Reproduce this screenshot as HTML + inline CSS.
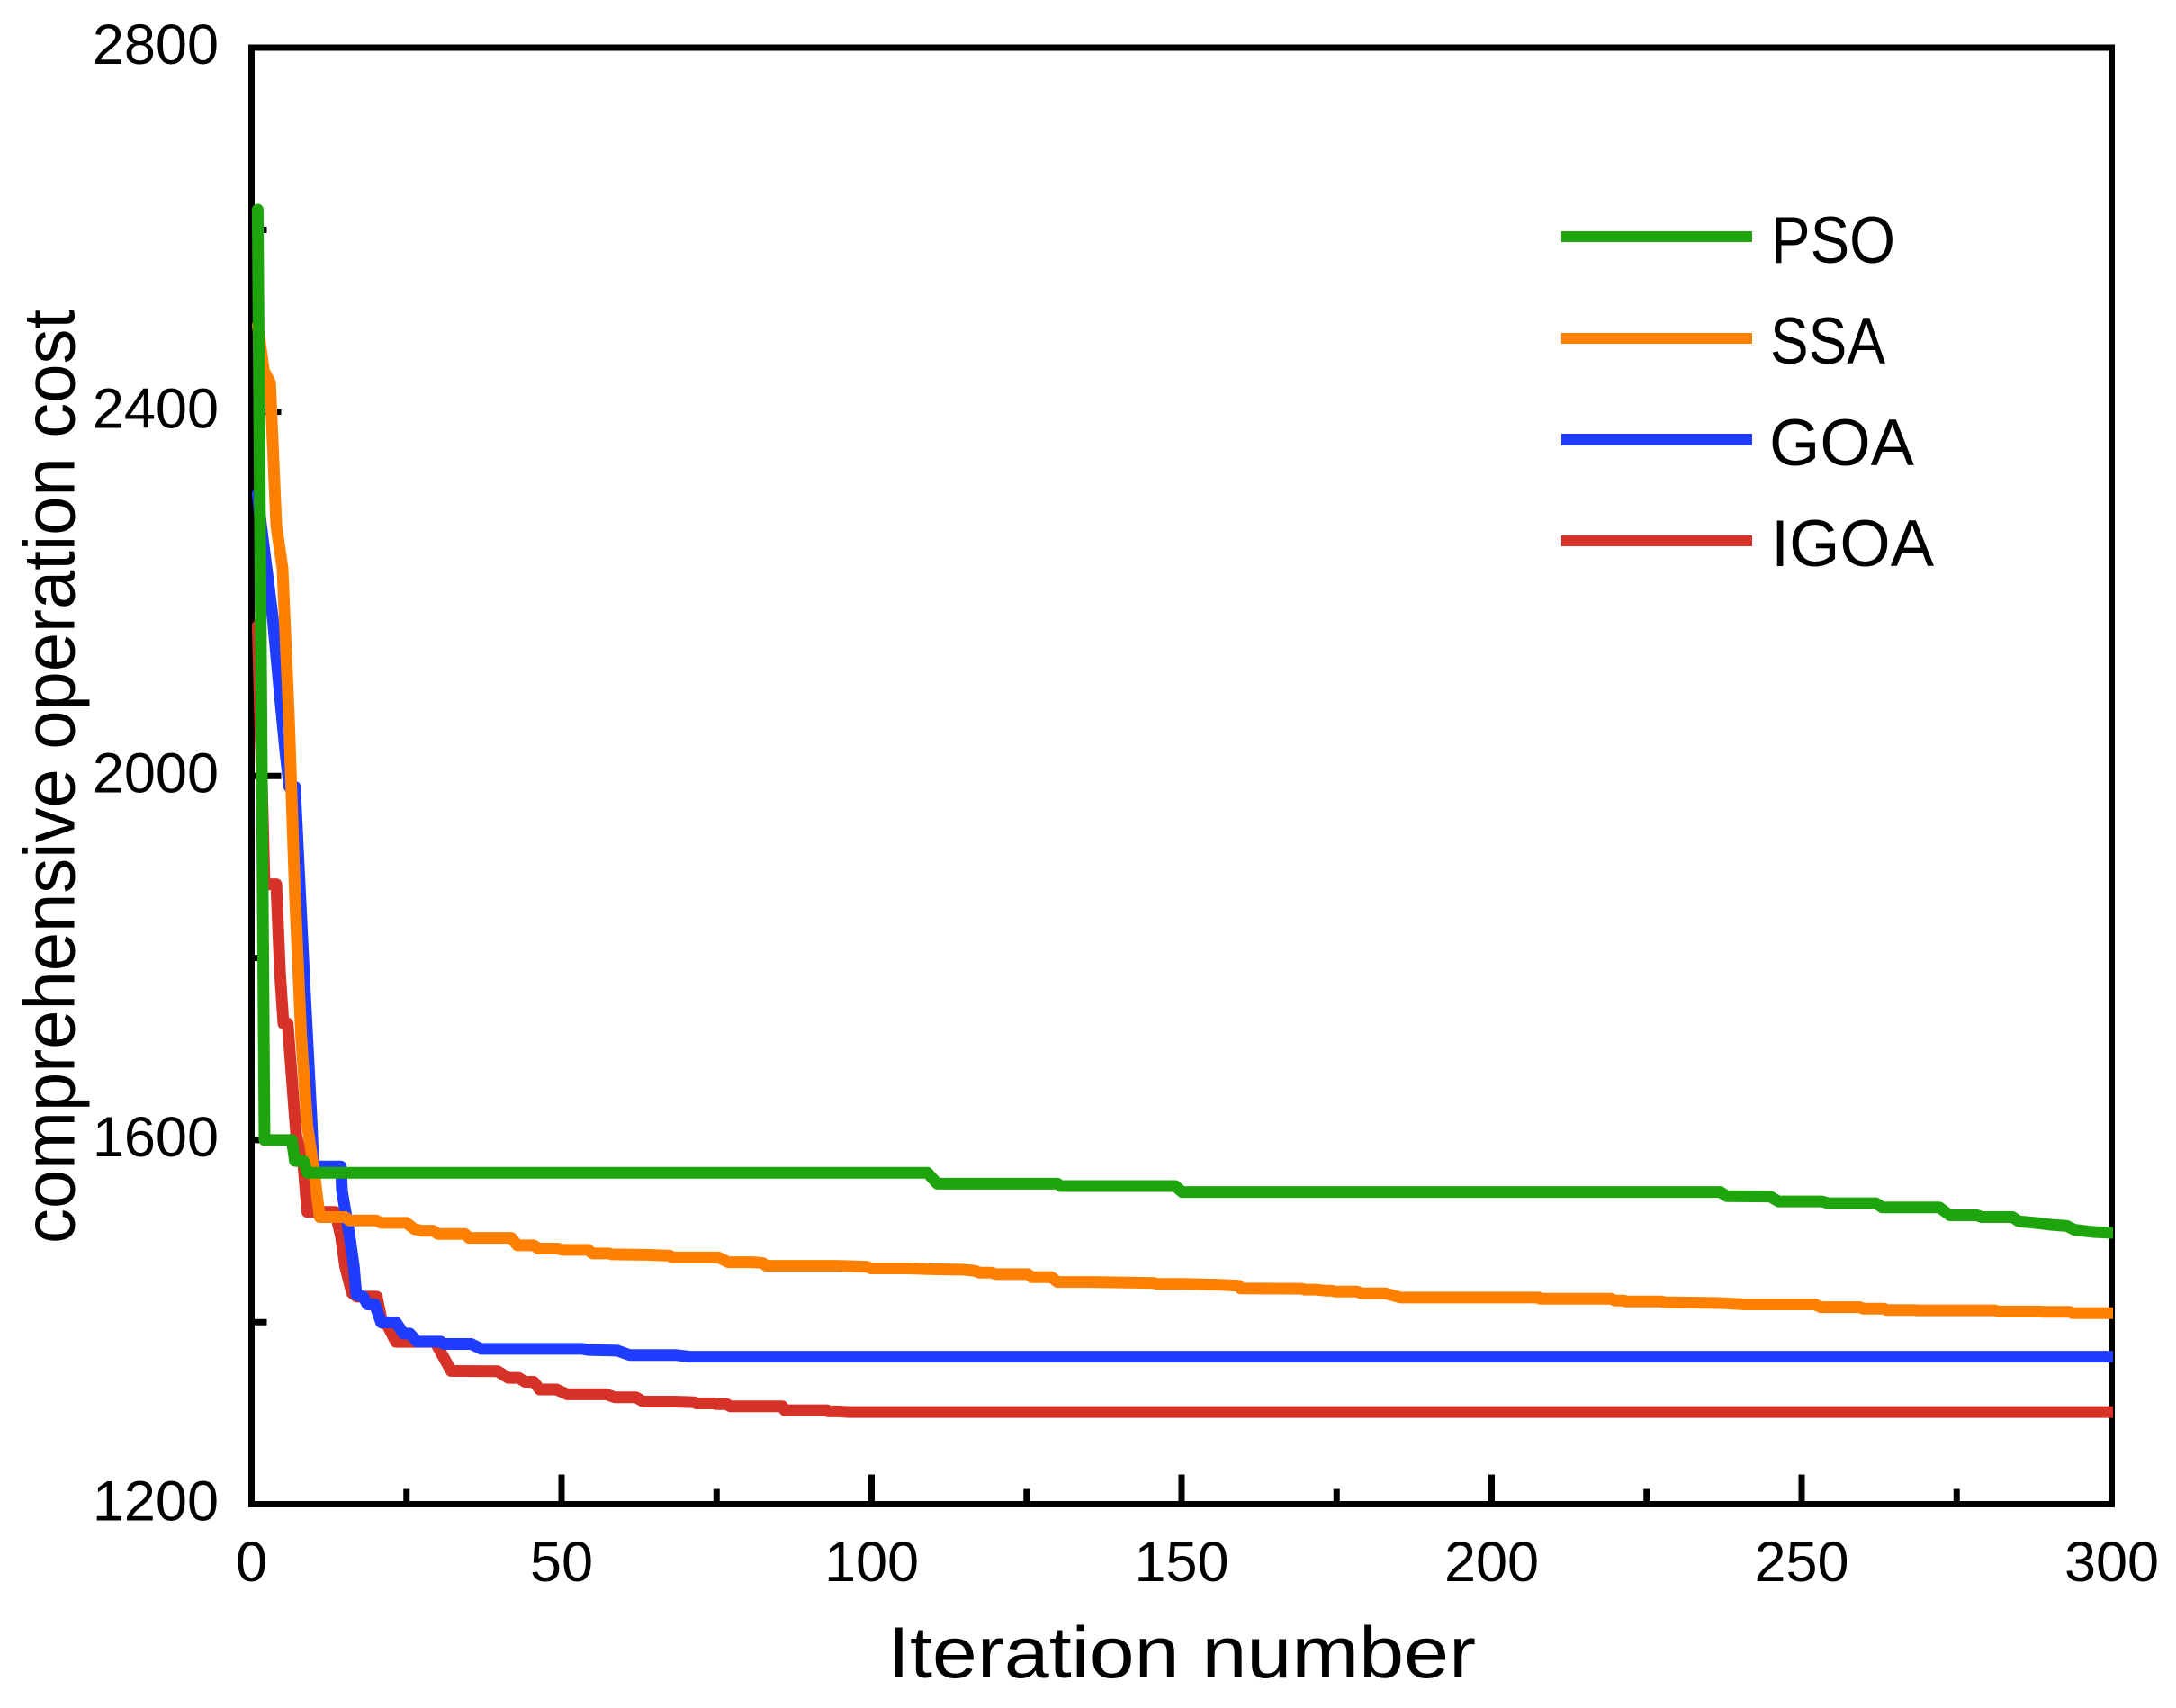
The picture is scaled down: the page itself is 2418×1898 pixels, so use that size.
<!DOCTYPE html>
<html lang="en">
<head>
<meta charset="utf-8">
<title>Comprehensive operation cost vs iteration number</title>
<style>
  html, body { margin: 0; padding: 0; background: #fff; }
  #chart { display: block; width: 2418px; height: 1898px; }
  text { font-family: "Liberation Sans", sans-serif; fill: #000; }
</style>
</head>
<body>
<svg id="chart" xmlns="http://www.w3.org/2000/svg" width="2418" height="1898" viewBox="0 0 2418 1898">
  <rect x="0" y="0" width="2418" height="1898" fill="#ffffff"/>
  <defs>
    <clipPath id="plot-clip"><rect x="270" y="40" width="2078" height="1640"/></clipPath>
  </defs>
  <g id="tick-layer"></g>
  <rect x="279.5" y="53" width="2067" height="1618.5" fill="none" stroke="#000" stroke-width="7"/>
  <g id="label-layer"></g>
  <g id="series-layer" clip-path="url(#plot-clip)"></g>

  <text x="986" y="1864" font-size="81" textLength="654" lengthAdjust="spacingAndGlyphs">Iteration number</text>
  <text transform="translate(82.5,1382) rotate(-90)" x="0" y="0" font-size="81" textLength="1038" lengthAdjust="spacingAndGlyphs">comprehensive operation cost</text>

  <g>
    <g>
      <rect x="1735" y="257" width="212" height="12" fill="#1ea50e"/>
      <text x="1968" y="292" font-size="73" textLength="138" lengthAdjust="spacingAndGlyphs">PSO</text>
    </g>
    <g>
      <rect x="1735" y="370" width="212" height="12" fill="#ff8000"/>
      <text x="1967" y="404" font-size="73" textLength="128" lengthAdjust="spacingAndGlyphs">SSA</text>
    </g>
    <g>
      <rect x="1735" y="482" width="212" height="13" fill="#1f3dff"/>
      <text x="1966" y="517" font-size="73" textLength="161" lengthAdjust="spacingAndGlyphs">GOA</text>
    </g>
    <g>
      <rect x="1735" y="595" width="212" height="12" fill="#d63228"/>
      <text x="1968" y="629" font-size="73" textLength="181" lengthAdjust="spacingAndGlyphs">IGOA</text>
    </g>
  </g>
</svg>
<script>
const xMajorTicks = [0, 50, 100, 150, 200, 250, 300];
const xMinorTicks = [25, 75, 125, 175, 225, 275];
const yMajorTicks = [1200, 1600, 2000, 2400, 2800];
const yMinorTicks = [1400, 1800, 2200, 2600];

const psoIter = [1, 2.1, 6.5, 7, 8.4, 9, 109, 110.6, 130, 130.5, 149, 150.1, 236.9, 237.9, 244.9, 246.3, 253.3, 254.3, 262, 263, 272.2, 273.9, 278.3, 279, 284, 285, 288, 290.4, 292.8, 294, 297.1, 300];
const psoCost = [2622, 1600, 1600, 1577, 1577, 1564, 1564, 1552, 1552, 1549.4, 1549.4, 1542.9, 1542.9, 1538.4, 1538, 1532.5, 1532.5, 1530.6, 1530.6, 1526, 1526, 1517.3, 1517.3, 1515.4, 1515.4, 1510.7, 1508.8, 1506.8, 1505.6, 1501.4, 1499, 1498];

const ssaIter = [1, 2, 3, 4, 5, 6, 7, 8, 9, 10, 11, 15.1, 15.8, 20.1, 20.9, 25, 26.2, 27.4, 29.3, 30.1, 34.4, 35.1, 41.9, 42.9, 45.5, 46.3, 49.4, 50.1, 54.3, 55, 57.6, 58.1, 63.6, 67.5, 67.8, 75.3, 76.9, 80.8, 82.4, 83, 94.4, 99.2, 99.9, 105.7, 110.3, 114.8, 116.7, 117.4, 119.3, 120, 125.2, 125.8, 129, 130, 135.5, 145.6, 145.9, 150.4, 156.3, 159.2, 159.5, 169.4, 169.9, 171.8, 173.2, 174.2, 174.7, 178.3, 179, 182.9, 185.3, 207.6, 207.8, 219.2, 219.9, 221.4, 221.6, 227.4, 227.9, 236.6, 240.8, 252.1, 253.1, 259.4, 259.9, 263.3, 263.7, 268.1, 268.6, 281.2, 281.6, 288.4, 288.9, 293.3, 293.7, 300];
const ssaCost = [2495, 2445, 2432, 2275, 2228, 2070, 1871, 1715, 1616, 1570, 1515.3, 1515.3, 1511.6, 1511.6, 1509, 1509, 1502.4, 1500.4, 1500.4, 1496.8, 1496.8, 1492.5, 1492.5, 1484.3, 1484.3, 1480.7, 1480.7, 1479.4, 1479.4, 1475.4, 1475.4, 1474.4, 1474, 1473, 1471, 1471, 1465.8, 1465.8, 1465, 1461.9, 1461.9, 1460.9, 1459, 1459, 1458, 1457.6, 1456.3, 1454.3, 1454.3, 1452.7, 1452.7, 1449.4, 1449.4, 1444, 1444, 1443, 1442, 1442, 1441, 1440, 1437, 1436.6, 1435.6, 1435.6, 1434.6, 1434.6, 1433.6, 1433.6, 1431.6, 1431.6, 1427, 1427, 1425.7, 1425.7, 1423.7, 1423.7, 1422.7, 1422.7, 1421.8, 1421, 1419.5, 1419.5, 1416.4, 1416.4, 1414.8, 1414.8, 1413.3, 1413.3, 1412.9, 1412.9, 1411.7, 1411.7, 1411.3, 1411.3, 1409.8, 1409.8];

const goaIter = [1, 1.5, 2.6, 3.45, 4.6, 5.5, 6.1, 7, 8.6, 9.65, 10, 14.4, 14.6, 15.8, 16.5, 16.9, 18, 18.7, 19.9, 20.9, 23.3, 24.5, 25.5, 26.7, 30.5, 31, 35.4, 37, 53.3, 54.3, 59, 61, 68.5, 70.7, 300];
const goaCost = [2310, 2278, 2219, 2172, 2087, 2024, 1988, 1988, 1764, 1626, 1571, 1571, 1544, 1495, 1461.5, 1430, 1428, 1419.5, 1419.5, 1399.7, 1399.7, 1387.5, 1387.5, 1378.6, 1378.6, 1376, 1376, 1370.7, 1370.7, 1369.4, 1368.7, 1363.8, 1363.8, 1362, 1362];

const igoaIter = [1, 2.1, 4, 4.6, 5.15, 5.83, 7.2, 8.4, 9, 13.5, 14.4, 15.1, 16.2, 17, 20.2, 21.1, 21.8, 23.3, 29.6, 32.2, 39.7, 41.4, 43.1, 44.1, 45.5, 46.5, 49.2, 50.9, 57.2, 58.6, 62, 63.2, 68.1, 71.4, 71.7, 74.6, 74.9, 76.6, 77.2, 85.6, 86, 92.8, 93, 94.4, 96.3, 300];
const igoaCost = [2165, 1881, 1881, 1783, 1728, 1728, 1606, 1570, 1521, 1521, 1495, 1461.5, 1432, 1428, 1428, 1399, 1398, 1378.3, 1378.3, 1346.4, 1346, 1338.8, 1338.8, 1334.5, 1334.5, 1326, 1326, 1320.7, 1320.7, 1317.4, 1317.4, 1312.7, 1312.7, 1312, 1310.7, 1310.7, 1310, 1310, 1307.5, 1307.5, 1303.2, 1303.2, 1302, 1302, 1301.2, 1301.2];

const SVG_NS = 'http://www.w3.org/2000/svg';
const plotLeft = 279.5, plotRight = 2346.5, plotTop = 53, plotBottom = 1671.5;
const xMin = 0, xMax = 300, yMin = 1200, yMax = 2800;

function xScale(v) { return plotLeft + (v - xMin) / (xMax - xMin) * (plotRight - plotLeft); }
function yScale(v) { return plotBottom - (v - yMin) / (yMax - yMin) * (plotBottom - plotTop); }

const tickLayer = document.getElementById('tick-layer');
const labelLayer = document.getElementById('label-layer');
const seriesLayer = document.getElementById('series-layer');

function addLine(parent, x1, y1, x2, y2) {
  const el = document.createElementNS(SVG_NS, 'line');
  el.setAttribute('x1', x1);
  el.setAttribute('y1', y1);
  el.setAttribute('x2', x2);
  el.setAttribute('y2', y2);
  el.setAttribute('stroke', '#000');
  el.setAttribute('stroke-width', '7');
  parent.appendChild(el);
  return el;
}

xMajorTicks.forEach(function (v) {
  const tick = addLine(tickLayer, xScale(v), plotBottom, xScale(v), plotBottom - 33);
  
  
  const label = document.createElementNS(SVG_NS, 'text');
  
  
  label.setAttribute('x', xScale(v));
  label.setAttribute('y', 1757);
  label.setAttribute('font-size', '63');
  label.setAttribute('text-anchor', 'middle');
  label.textContent = String(v);
  labelLayer.appendChild(label);
});

xMinorTicks.forEach(function (v) {
  const tick = addLine(tickLayer, xScale(v), plotBottom, xScale(v), plotBottom - 17);
  
  
});

yMajorTicks.forEach(function (v) {
  const tick = addLine(tickLayer, plotLeft, yScale(v), plotLeft + 33, yScale(v));
  
  
  const label = document.createElementNS(SVG_NS, 'text');
  
  
  label.setAttribute('x', 243);
  label.setAttribute('y', yScale(v) + 18);
  label.setAttribute('font-size', '63');
  label.setAttribute('text-anchor', 'end');
  label.textContent = String(v);
  labelLayer.appendChild(label);
});

yMinorTicks.forEach(function (v) {
  const tick = addLine(tickLayer, plotLeft, yScale(v), plotLeft + 17, yScale(v));
  
  
});

function drawSeries(iters, costs, color, name) {
  const el = document.createElementNS(SVG_NS, 'polyline');
  const pts = iters.map(function (it, i) {
    return xScale(it).toFixed(2) + ',' + yScale(costs[i]).toFixed(2);
  });
  el.setAttribute('points', pts.join(' '));
  el.setAttribute('fill', 'none');
  el.setAttribute('stroke', color);
  el.setAttribute('stroke-width', '13');
  el.setAttribute('stroke-linejoin', 'round');
  el.setAttribute('stroke-linecap', 'round');
  
  
  seriesLayer.appendChild(el);
}

drawSeries(igoaIter, igoaCost, '#d63228', 'igoa-line');
drawSeries(goaIter, goaCost, '#1f3dff', 'goa-line');
drawSeries(ssaIter, ssaCost, '#ff8000', 'ssa-line');
drawSeries(psoIter, psoCost, '#1ea50e', 'pso-line');
</script>
</body>
</html>
